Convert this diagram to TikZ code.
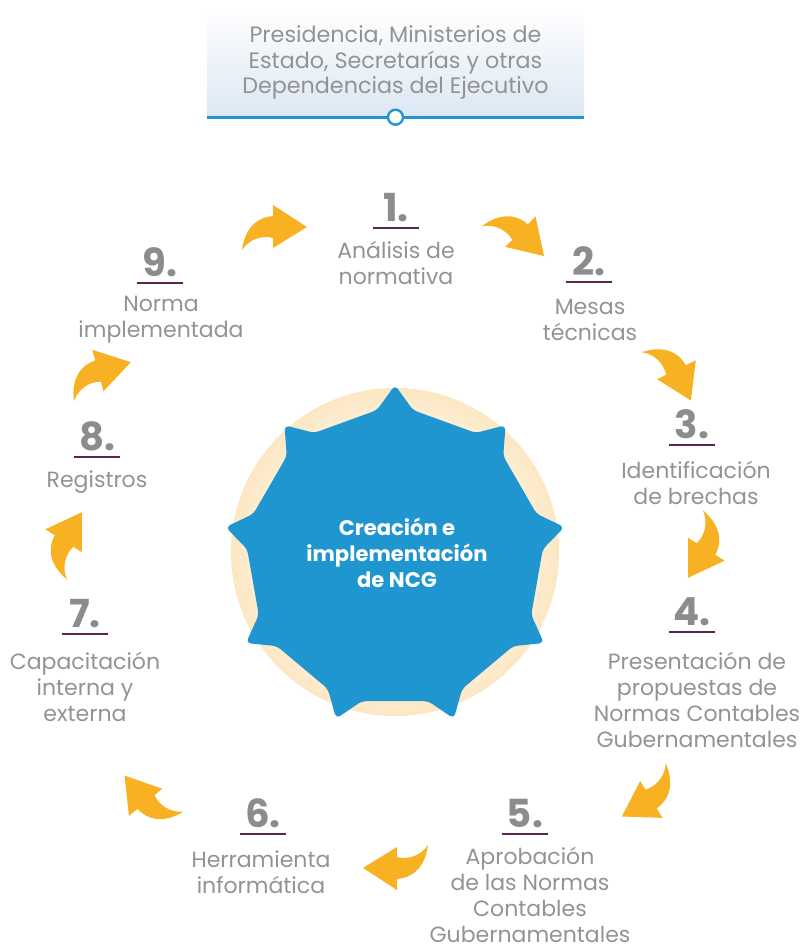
\documentclass[tikz,border=0pt]{standalone}
\usepackage{fontspec}
\setmainfont{Poppins}
\usetikzlibrary{ calc,        % For offsets from node anchors
                 positioning, % For easy node-relative placements
               }
\definecolor{labelgray}{HTML}{939393}
\definecolor{numgray}{HTML}{8C8C8C}
\definecolor{rulepurple}{HTML}{5C2550}
\definecolor{starblue}{HTML}{1F96D0}
\definecolor{arroworange}{HTML}{F8B123}
\definecolor{boxblue}{HTML}{DCE7F3}
\definecolor{lineblue}{HTML}{2394D3}
\definecolor{glowpeach}{HTML}{FDE7C3}
\pgfdeclareradialshading{ringglow}{\pgfpoint{0bp}{0bp}}{color(0bp)=(white); color(12bp)=(white); color(25bp)=(glowpeach); color(50bp)=(glowpeach)}

\tikzstyle{stepnum} = [anchor=base, text=numgray, inner sep=0pt, font=\fontsize{33}{36}\selectfont\bfseries]
\tikzstyle{steptext} = [align=center, text=labelgray, inner sep=0pt, font=\fontsize{18.8}{22.2}\selectfont]
\tikzstyle{numrule} = [draw=rulepurple, line width=2.4pt]
\tikzstyle{orgbox} = [minimum width=11.31cm, minimum height=3.27cm, inner sep=0pt, top color=white, bottom color=boxblue, align=center, text=labelgray, font=\fontsize{19}{21.8}\selectfont]
\tikzstyle{pin} = [circle, draw=lineblue, fill=white, line width=2pt, minimum size=0.45cm, inner sep=0pt]
\tikzstyle{halo} = [circle, shading=ringglow, minimum size=9.84cm, inner sep=0pt]
\tikzstyle{corestar} = [fill=starblue, rounded corners=4pt]
\tikzstyle{coretext} = [align=center, text=white, inner sep=0pt, font=\fontsize{18}{22.2}\selectfont\bfseries]
\tikzstyle{curlfill} = [fill=arroworange]
\tikzset{curl/.pic={
  \fill[curlfill] (34,0) -- (0,-22) -- (0,-11) .. controls (-15,-10) and (-28,0) .. (-31,23)
    .. controls (-24,12) and (-10,8) .. (0,11) -- (0,21) -- cycle;
}}

\begin{document}
\begin{tikzpicture}[x=0.03cm, y=-0.03cm]
  \useasboundingbox (0,0) rectangle (801,950);

  % top box
  \node (org) [orgbox] at (395.5,62.5) {Presidencia, Ministerios de\\Estado, Secretarías y otras\\Dependencias del Ejecutivo};
  \draw[lineblue, line width=2.4pt] (org.south west) -- (org.south east);
  \node (pin) [pin] at (org.south) {};

  % centre
  \node (halo) [halo] at (395,552) {};
  \begin{scope}[shift={(395,557)}]
    \fill[corestar] (277:148) -- (270:172) -- (263:148)
      \foreach \a in {230,190,...,-50} { -- (\a+7:148) -- (\a:172) -- (\a-7:148) } -- cycle;
  \end{scope}
  \node (core) [coretext] at (397,553) {Creación e\\implementación\\de NCG};

  % steps
  \node (num_1) [stepnum] at (396,221) {1.};
  \node (step_1) [steptext] at (396,263) {Análisis de\\normativa};
  \node (num_2) [stepnum] at (589,275) {2.};
  \node (step_2) [steptext] at (590,320) {Mesas\\técnicas};
  \node (num_3) [stepnum] at (692,438) {3.};
  \node (step_3) [steptext] at (696,483) {Identificación\\de brechas};
  \node (num_4) [stepnum] at (692,625) {4.};
  \node (step_4) [steptext] at (697,700) {Presentación de\\propuestas de\\Normas Contables\\Gubernamentales};
  \node (num_5) [stepnum] at (525,827) {5.};
  \node (step_5) [steptext] at (530,895) {Aprobación\\de las Normas\\Contables\\Gubernamentales};
  \node (num_6) [stepnum] at (263,827) {6.};
  \node (step_6) [steptext] at (261,872) {Herramienta\\informática};
  \node (num_7) [stepnum] at (85,627) {7.};
  \node (step_7) [steptext] at (85,687) {Capacitación\\interna y\\externa};
  \node (num_8) [stepnum] at (97,450) {8.};
  \node (step_8) [steptext] at (97,482) {Registros};
  \node (num_9) [stepnum] at (160,276) {9.};
  \node (step_9) [steptext] at (161,320) {Norma\\implementada};

  \foreach \i in {1,...,9}
    \draw[numrule] ($(num_\i.base)+(-23,7)$) -- ($(num_\i.base)+(23,7)$);

  % arrows between steps
  \foreach \x/\y/\r in {273/227/0, 520/232/-45, 676/370/-64, 706/549/-122, 651/799/-149,
                        397/868/180, 146/802/129, 64/541/58, 98/371/15}
    \pic[rotate=\r] at (\x,\y) {curl};
\end{tikzpicture}
\end{document}
